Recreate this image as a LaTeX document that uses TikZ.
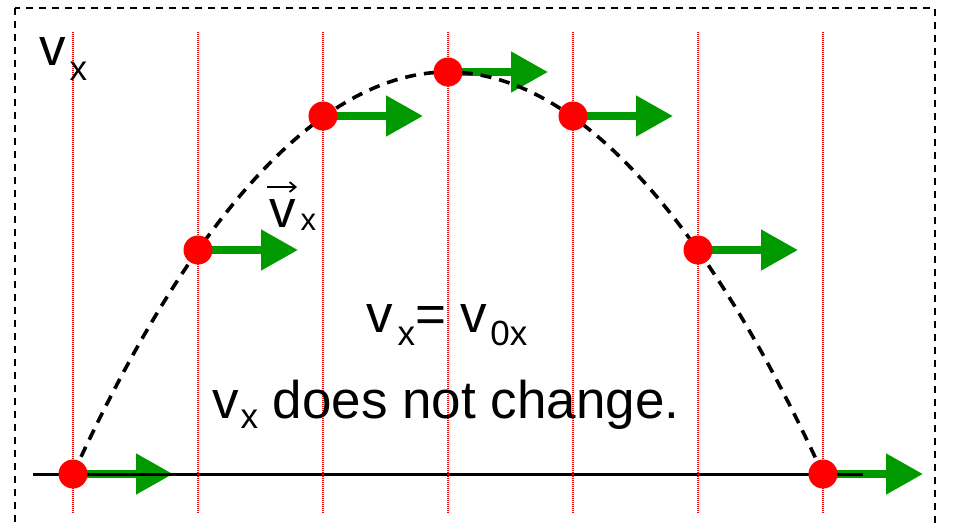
\documentclass[tikz,border=0pt]{standalone}
\usepackage{fontspec}
\setmainfont{Liberation Sans}
\usetikzlibrary{arrows.meta}
\definecolor{arrowgreen}{RGB}{0,153,0}
\newcommand\mysub[3]{\raisebox{-#1pt}{\fontsize{#2}{#2}\selectfont #3}}
\begin{document}
\begin{tikzpicture}[x=1pt,y=-1pt,
  redline/.style={draw=red, line width=2pt, dash pattern=on 1pt off 1pt},
  greenarrow/.style={draw=arrowgreen, fill=arrowgreen, line width=8pt, -{Triangle[length=37pt,width=39pt]}},
  dot/.style={circle, fill=red, minimum size=29pt, inner sep=0pt},
  lbl/.style={anchor=base west, inner sep=0pt, font=\fontsize{53}{60}\selectfont},
  frame/.style={draw=black, line width=2.6pt, dash pattern=on 7pt off 6pt},
  curve/.style={draw=black, line width=3.6pt, dash pattern=on 11pt off 8pt},
]
\useasboundingbox (0,0) rectangle (958,523);
\draw[frame] (15,8) rectangle (935,540);
% positions
\foreach \i/\x/\y in {1/73/474,2/198/250,3/323/116,4/448/72,5/573/116,6/698/250,7/823/474}{
  \coordinate (p\i) at (\x,\y);
  \coordinate (t\i) at (\x+100,\y);
  \coordinate (top\i) at (\x,32);
  \coordinate (bot\i) at (\x,514);
}
\coordinate (g1) at (33,474);
\coordinate (g2) at (863,474);
% green arrows
\foreach \i in {1,...,7}{\draw[greenarrow] (p\i) -- (t\i);}
% ground
\draw[line width=3pt] (g1) -- (g2);
% trajectory
\draw[curve] (p1) parabola bend (p4) (p7);
% dots
\foreach \i in {1,...,7}{\node[dot] (d\i) at (p\i) {};}
% red grid lines
\foreach \i in {1,...,7}{\draw[redline] (top\i) -- (bot\i);}
% labels
\node[lbl] (vxcorner) at (39,65) {v\kern4pt\mysub{15}{35}{x}};
\node[lbl] (vvec) at (269,227) {v\kern5pt\mysub{3}{31}{x}};
\draw[line width=1.8pt, -{Straight Barb[length=6pt,width=10pt]}] ([xshift=-2pt,yshift=40pt]vvec.base west) -- ++(30,0);
\node[lbl] (eq) at (366,332) {v\kern5pt\mysub{13}{35}{x}= v\kern3pt\mysub{13}{35}{0x}};
\node[lbl] (nochange) at (212,418) {v\kern2pt\mysub{10}{35}{x} does not change.};
\end{tikzpicture}
\end{document}
